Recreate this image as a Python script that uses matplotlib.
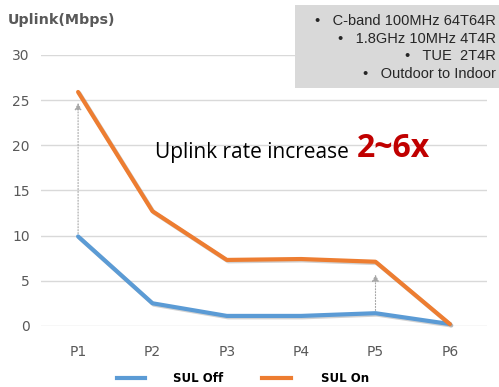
import matplotlib
matplotlib.use("Agg")
import matplotlib.pyplot as plt
import matplotlib.patheffects as pe
from matplotlib.patches import Rectangle

CATEGORIES = ['P1', 'P2', 'P3', 'P4', 'P5', 'P6']
SUL_OFF = [9.9, 2.5, 1.1, 1.1, 1.4, 0.2]
SUL_ON = [25.9, 12.7, 7.3, 7.4, 7.1, 0.2]
ARROWS = [(0, 9.9, 25.0), (4, 1.4, 6.0)]  # (category index, from, to)
NOTES = ['C-band 100MHz 64T64R', '1.8GHz 10MHz 4T4R', 'TUE  2T4R', 'Outdoor to Indoor']

GREY = '#595959'
BLUE = '#5B9BD5'
ORANGE = '#ED7D31'

fig = plt.figure(figsize=(4.99, 3.87), dpi=100)
ax = fig.add_axes([0.082, 0.158, 0.894, 0.700])

x = list(range(len(CATEGORIES)))
shadow = [pe.SimpleLineShadow(offset=(1, -1), alpha=0.35, shadow_color='gray'), pe.Normal()]
ax.plot(x, SUL_OFF, color=BLUE, lw=3, solid_capstyle='round', path_effects=shadow, zorder=3, clip_on=False)
ax.plot(x, SUL_ON, color=ORANGE, lw=3, solid_capstyle='round', path_effects=shadow, zorder=3, clip_on=False)

for i, y0, y1 in ARROWS:
    ax.annotate('', xy=(i, y1), xytext=(i, y0),
                arrowprops=dict(arrowstyle='-|>', color='#A6A6A6', lw=0.8, ls=':', mutation_scale=10),
                zorder=2)

ax.set_xlim(-0.5, 5.5)
ax.set_ylim(0, 30)
ax.set_yticks(range(0, 31, 5))
ax.set_xticks(x)
ax.set_xticklabels(CATEGORIES)
ax.grid(axis='y', color='#D9D9D9', lw=1)
ax.set_axisbelow(True)
for s in ax.spines.values():
    s.set_visible(False)
ax.tick_params(length=0, colors=GREY, labelsize=10, pad=14)
ax.tick_params(axis='y', pad=8)

fig.text(0.016, 0.948, 'Uplink(Mbps)', color=GREY, fontsize=10.3, fontweight='bold', va='center')

# annotation text
fig.text(0.31, 0.605, 'Uplink rate increase', family='Open Sans', fontsize=15, color='black', va='center')
fig.text(0.715, 0.615, '2~6x', family='Open Sans', fontsize=23, fontweight='bold', color='#C00000', va='center')

# notes box
fig.patches.append(Rectangle((0.591, 0.773), 0.409, 0.214, transform=fig.transFigure,
                             facecolor='#D9D9D9', edgecolor='none', zorder=5))
for k, note in enumerate(NOTES):
    fig.text(0.993, 0.946 - k * 0.0455, '\u2022   ' + note, family='Liberation Sans', fontsize=10.5,
             color='#262626', ha='right', va='center', zorder=6)

# legend
fig.add_artist(plt.Line2D([0.235, 0.29], [0.022, 0.022], color=BLUE, lw=3, transform=fig.transFigure))
fig.text(0.347, 0.022, 'SUL Off', color='black', fontsize=8.5, fontweight='bold', va='center')
fig.add_artist(plt.Line2D([0.525, 0.583], [0.022, 0.022], color=ORANGE, lw=3, transform=fig.transFigure))
fig.text(0.643, 0.022, 'SUL On', color='black', fontsize=8.5, fontweight='bold', va='center')

fig.savefig('out.png', dpi=100)
